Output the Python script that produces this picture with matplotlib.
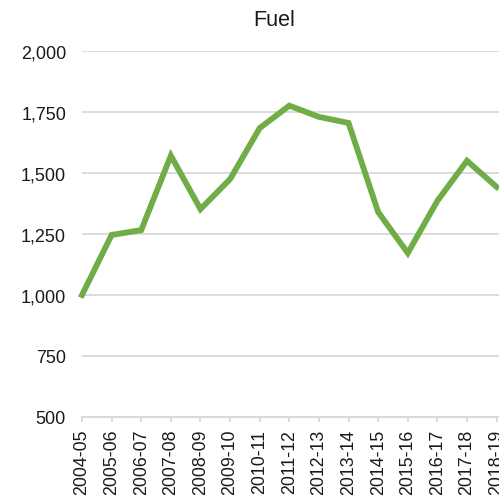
import matplotlib
matplotlib.use("Agg")
import matplotlib.pyplot as plt
from matplotlib.ticker import FuncFormatter

years = ["2004-05", "2005-06", "2006-07", "2007-08", "2008-09", "2009-10", "2010-11",
         "2011-12", "2012-13", "2013-14", "2014-15", "2015-16", "2016-17", "2017-18", "2018-19"]
fuel = [1000, 1246, 1266, 1571, 1352, 1475, 1684, 1776, 1730, 1705, 1340, 1172, 1386, 1550, 1443]

plt.rcParams['font.family'] = ['Liberation Sans', 'DejaVu Sans']

fig = plt.figure(figsize=(4.99, 5.02), dpi=100)
ax = fig.add_axes([82 / 499, 84 / 502, 1 - 82 / 499, (418 - 52) / 502])

x = list(range(len(years)))
ax.plot(x, fuel, color='#70ad47', linewidth=4.2, solid_joinstyle='miter', clip_on=False, zorder=3)

ax.set_ylim(500, 2000)
ax.set_xlim(0, 14.08)
ax.set_yticks([500, 750, 1000, 1250, 1500, 1750, 2000])
ax.yaxis.set_major_formatter(FuncFormatter(lambda v, p: f"{int(v):,}"))
ax.set_xticks(x)
ax.set_xticklabels(years, rotation=90)

ax.grid(axis='y', color='#d9d9d9', linewidth=1.3)
ax.set_axisbelow(True)
for s in ['top', 'right', 'left']:
    ax.spines[s].set_visible(False)
ax.spines['bottom'].set_color('#d9d9d9')
ax.spines['bottom'].set_linewidth(1.3)
ax.tick_params(axis='y', length=0, pad=11.5, labelsize=13, labelcolor='#1a1a1a')
ax.tick_params(axis='x', length=3.6, width=1.3, color='#d9d9d9', pad=5, labelsize=12.8, labelcolor='#1a1a1a')

fig.text(274 / 499, 1 - 20 / 502, "Fuel", ha='center', va='center', fontsize=15.5, color='#1a1a1a')

fig.savefig("out.png", dpi=100)
